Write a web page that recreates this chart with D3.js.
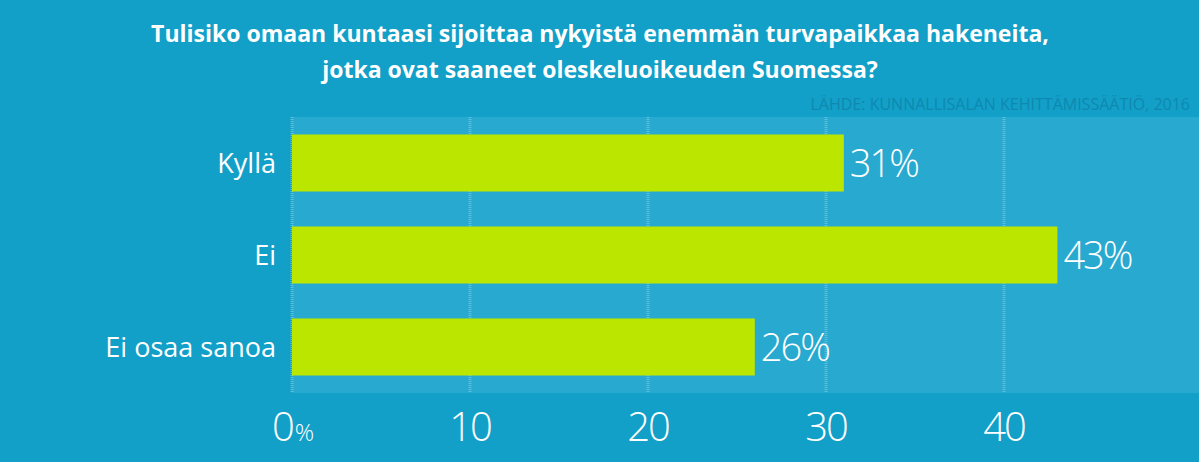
<!DOCTYPE html>
<html><head><meta charset="utf-8">
<script src="https://cdn.jsdelivr.net/npm/d3@7"></script>
<style>body{margin:0;background:#12a0c8;overflow:hidden}</style>
</head><body>
<script>
var categories = ["Kyllä", "Ei", "Ei osaa sanoa"];
var values = [31, 43, 26];
var ticks = [0, 10, 20, 30, 40];

var width = 1199, height = 462;
var svg = d3.select("body").append("svg").attr("width", width).attr("height", height);
svg.append("rect").attr("width", width).attr("height", height).attr("fill", "#12a0c8");

var x = d3.scaleLinear().domain([0, 10]).range([292, 470]);
var y = d3.scaleBand().domain(categories).range([117, 393]).paddingInner(0.38).paddingOuter(0.19);

svg.append("rect").attr("x", 292).attr("y", 117).attr("width", width - 292).attr("height", 276).attr("fill", "#28a9d0");

svg.selectAll("line.grid").data(ticks).enter().append("line")
    .attr("class", "grid")
    .attr("x1", d => x(d)).attr("x2", d => x(d))
    .attr("y1", 117).attr("y2", 393)
    .attr("stroke", "#5cc0de").attr("stroke-width", 3).attr("stroke-dasharray", "1,1");

svg.selectAll("rect.bar").data(values).enter().append("rect")
    .attr("class", "bar")
    .attr("x", x(0)).attr("y", (d, i) => y(categories[i]))
    .attr("width", d => x(d) - x(0)).attr("height", y.bandwidth())
    .attr("fill", "#bbe600");

svg.selectAll("text.val").data(values).enter().append("text")
    .attr("x", d => x(d) + 6).attr("y", (d, i) => y(categories[i]) + y.bandwidth() / 2)
    .attr("dy", "0.36em").attr("fill", "#fff")
    .style("font", "300 38px 'Open Sans'").style("letter-spacing", "-2px")
    .text(d => d + "%");

svg.selectAll("text.cat").data(categories).enter().append("text")
    .attr("x", 276).attr("y", d => y(d) + y.bandwidth() / 2)
    .attr("dy", "0.36em").attr("text-anchor", "end").attr("fill", "#fff")
    .style("font", "400 27px 'Open Sans'")
    .text(d => d);

var tl = svg.selectAll("text.tick").data(ticks).enter().append("text")
    .attr("x", d => x(d)).attr("y", 441)
    .attr("text-anchor", "middle").attr("fill", "#fff")
    .style("font", "300 40px 'Open Sans'").style("letter-spacing", "-2px");
tl.append("tspan").text(d => d);
tl.filter(d => d === 0).append("tspan").style("font-size", "24px").attr("dx", 2).text("%");

svg.append("text").attr("x", 600).attr("y", 42).attr("text-anchor", "middle").attr("fill", "#fff")
    .style("font", "700 23px 'Open Sans'")
    .text("Tulisiko omaan kuntaasi sijoittaa nykyistä enemmän turvapaikkaa hakeneita,");
svg.append("text").attr("x", 600).attr("y", 78).attr("text-anchor", "middle").attr("fill", "#fff")
    .style("font", "700 23px 'Open Sans'")
    .text("jotka ovat saaneet oleskeluoikeuden Suomessa?");
svg.append("text").attr("x", 1190).attr("y", 110).attr("text-anchor", "end").attr("fill", "#0f88b0")
    .style("font", "400 16px 'Open Sans'")
    .text("LÄHDE: KUNNALLISALAN KEHITTÄMISSÄÄTIÖ, 2016");
</script>
</body></html>
